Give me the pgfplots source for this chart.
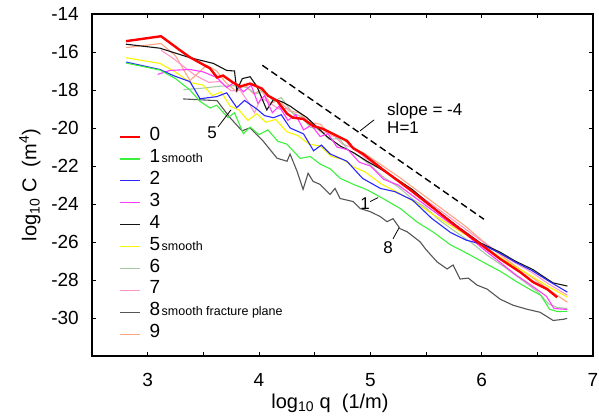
\documentclass[border=0pt]{standalone}
\usepackage{fontspec}
\setmainfont{Liberation Sans}
\usepackage{pgfplots}
\pgfplotsset{compat=1.18}
\definecolor{c0}{RGB}{255,0,0}
\definecolor{c1}{RGB}{60,240,60}
\definecolor{c2}{RGB}{40,40,255}
\definecolor{c3}{RGB}{255,60,255}
\definecolor{c4}{RGB}{20,20,20}
\definecolor{c5}{RGB}{250,245,0}
\definecolor{c6}{RGB}{165,200,165}
\definecolor{c7}{RGB}{255,150,200}
\definecolor{c8}{RGB}{85,85,85}
\definecolor{c9}{RGB}{255,165,130}
\newcommand{\sm}[1]{{\fontsize{12.5}{12.5}\selectfont\hspace{1.5pt}#1}}
\begin{document}
\begin{tikzpicture}
\begin{axis}[name=ax, width=501pt, height=342pt, scale only axis,
  xmin=2.5, xmax=7, ymin=-32, ymax=-14,
  xtick={3,4,5,6,7}, minor xtick={3.5,4.5,5.5,6.5},
  ytick={-30,-28,-26,-24,-22,-20,-18,-16,-14},
  tick align=inside, major tick length=4pt, minor tick length=4pt,
  axis line style={line width=1.1pt},
  every tick/.style={black, line width=0.9pt},
  /pgf/number format/assume math mode=true,
  ticklabel style={font=\fontsize{19}{19}\selectfont},
  yticklabel style={anchor=east, inner sep=0pt, xshift=-13pt},
  xticklabel style={anchor=north, inner sep=0pt, yshift=-17pt},
  xlabel={log\textsubscript{10} q\ \ (1/m)},
  ylabel={log\textsubscript{10} C\ \ (m\textsuperscript{4})},
  label style={font=\fontsize{20}{20}\selectfont},
  xlabel style={at={(rel axis cs:0.475,0)}, anchor=center, yshift=-47pt},
  ylabel style={at={(rel axis cs:-0.1238,0.5)}, anchor=center},
  legend style={at={(axis cs:2.743,-19.89)}, anchor=north west, draw=none, fill=none,
    font=\fontsize{19}{19}\selectfont, inner sep=0pt, row sep=0pt, column sep=8pt,
    nodes={inner sep=0pt, text height=14.5pt, text depth=7.4pt}},
  legend cell align=left,
  legend image code/.code={\draw[#1] (0pt,0pt) -- (20pt,0pt);},
  reverse legend,
]
\addplot[c9, line width=1.1pt] coordinates {(2.805,-15.77) (3.12,-15.55) (3.25,-16.20) (3.38,-17.50) (3.53,-16.70) (3.62,-17.00) (3.70,-17.60) (3.80,-18.10) (3.87,-17.70) (3.95,-18.20) (4.02,-18.00) (4.10,-18.70) (4.18,-18.55) (4.27,-19.10) (4.36,-19.20) (4.45,-19.70) (4.55,-19.80) (4.65,-20.40) (4.75,-20.55) (4.85,-21.05) (4.95,-21.35) (5.10,-21.95) (5.25,-22.55) (5.40,-23.20) (5.55,-23.85) (5.70,-24.50) (5.85,-25.15) (6.00,-25.90) (6.15,-26.60) (6.30,-27.25) (6.45,-27.85) (6.60,-28.50) (6.77,-29.17)};
\addlegendentry{9}
\addplot[c8, line width=1.1pt] coordinates {(3.318,-18.47) (3.623,-18.56) (3.740,-19.46) (3.848,-20.15) (3.920,-19.99) (4.036,-20.68) (4.162,-21.59) (4.252,-21.75) (4.279,-21.37) (4.342,-22.28) (4.396,-23.23) (4.441,-22.38) (4.486,-22.81) (4.549,-22.97) (4.638,-23.50) (4.683,-23.18) (4.728,-23.71) (4.845,-23.87) (4.908,-24.24) (4.998,-24.40) (5.088,-24.66) (5.150,-24.93) (5.204,-24.77) (5.267,-25.30) (5.330,-25.46) (5.447,-25.99) (5.50,-26.40) (5.600,-27.05) (5.690,-27.42) (5.743,-27.21) (5.806,-27.95) (5.880,-27.90) (5.959,-28.27) (6.049,-28.48) (6.166,-29.01) (6.283,-29.33) (6.408,-29.54) (6.525,-29.70) (6.642,-30.13) (6.732,-30.07) (6.768,-30.02)};
\addlegendentry{8\sm{smooth fracture plane}}
\addplot[c7, line width=1.1pt] coordinates {(3.12,-15.90) (3.22,-16.30) (3.32,-16.75) (3.42,-17.20) (3.55,-17.60) (3.65,-17.55) (3.75,-18.05) (3.83,-18.00) (3.90,-18.60) (3.96,-19.20) (4.02,-18.40) (4.10,-18.70) (4.18,-19.00) (4.26,-18.95) (4.35,-19.50) (4.45,-19.55) (4.55,-20.20) (4.65,-20.25) (4.75,-20.85) (4.85,-21.05) (4.95,-21.55) (5.10,-22.20) (5.25,-22.75) (5.40,-23.40) (5.55,-24.00) (5.70,-24.65) (5.85,-25.30) (6.00,-25.95) (6.15,-26.55) (6.30,-27.10) (6.45,-27.60) (6.60,-28.20) (6.77,-28.80)};
\addlegendentry{7}
\addplot[c6, line width=1.1pt] coordinates {(3.32,-17.98) (3.50,-17.90) (3.65,-17.80) (3.80,-17.77) (3.89,-17.87) (3.97,-18.20) (4.05,-18.05) (4.13,-18.60) (4.20,-18.40) (4.30,-19.20) (4.38,-19.40) (4.46,-19.95) (4.55,-20.10) (4.63,-20.60) (4.72,-20.55) (4.80,-21.15) (4.90,-21.50) (5.00,-21.95) (5.12,-22.60) (5.25,-23.10) (5.38,-23.75) (5.50,-24.20) (5.62,-24.85) (5.75,-25.40) (5.90,-26.00) (6.05,-26.70) (6.20,-27.30) (6.35,-27.95) (6.50,-28.60) (6.60,-29.25) (6.68,-29.45) (6.77,-29.50)};
\addlegendentry{6}
\addplot[c5, line width=1.1pt] coordinates {(2.805,-16.30) (3.11,-16.60) (3.25,-17.05) (3.38,-17.60) (3.50,-17.75) (3.58,-18.30) (3.66,-18.10) (3.74,-18.85) (3.82,-19.05) (3.90,-19.60) (3.98,-19.25) (4.06,-19.70) (4.15,-19.55) (4.25,-20.20) (4.35,-20.40) (4.45,-20.85) (4.55,-20.95) (4.65,-21.50) (4.75,-21.65) (4.85,-22.05) (4.95,-22.30) (5.10,-22.95) (5.25,-23.40) (5.40,-23.90) (5.55,-24.50) (5.70,-25.05) (5.85,-25.60) (6.00,-26.15) (6.15,-26.75) (6.30,-27.30) (6.45,-27.80) (6.60,-28.35) (6.77,-28.90)};
\addlegendentry{5\sm{smooth}}
\addplot[c4, line width=1.1pt] coordinates {(2.805,-15.59) (3.11,-15.80) (3.38,-16.30) (3.59,-16.60) (3.71,-16.97) (3.78,-17.00) (3.80,-18.03) (3.85,-17.40) (3.92,-17.30) (3.98,-17.80) (4.07,-19.05) (4.13,-18.50) (4.20,-18.60) (4.28,-18.85) (4.34,-19.10) (4.43,-19.45) (4.52,-19.95) (4.61,-20.45) (4.73,-20.95) (4.85,-21.30) (4.97,-21.75) (5.15,-22.35) (5.38,-23.25) (5.60,-24.35) (5.80,-25.25) (5.99,-26.05) (6.17,-26.55) (6.30,-27.00) (6.46,-27.45) (6.64,-28.15) (6.77,-28.32)};
\addlegendentry{4}
\addplot[c3, line width=1.1pt] coordinates {(3.09,-17.18) (3.20,-16.97) (3.38,-16.92) (3.50,-17.05) (3.62,-17.34) (3.71,-17.87) (3.78,-17.60) (3.86,-18.10) (3.93,-17.75) (3.99,-18.70) (4.05,-18.30) (4.12,-19.20) (4.18,-18.85) (4.26,-19.60) (4.33,-19.30) (4.40,-20.10) (4.47,-19.85) (4.55,-20.45) (4.62,-20.30) (4.70,-21.00) (4.80,-21.15) (4.90,-21.80) (5.00,-22.00) (5.12,-22.70) (5.25,-23.00) (5.40,-23.65) (5.55,-24.30) (5.70,-24.95) (5.85,-25.55) (6.00,-26.30) (6.15,-27.00) (6.30,-27.70) (6.45,-28.30) (6.58,-28.85) (6.65,-29.50) (6.77,-29.55)};
\addlegendentry{3}
\addplot[c2, line width=1.1pt] coordinates {(2.805,-16.53) (3.11,-16.92) (3.23,-17.24) (3.38,-17.56) (3.47,-18.46) (3.62,-18.35) (3.71,-18.15) (3.80,-18.93) (3.87,-18.55) (3.98,-19.00) (4.05,-19.35) (4.13,-19.46) (4.20,-19.30) (4.28,-20.00) (4.40,-20.31) (4.49,-21.20) (4.56,-20.90) (4.64,-21.37) (4.79,-21.75) (4.93,-22.65) (5.09,-23.18) (5.22,-23.35) (5.38,-23.80) (5.55,-24.75) (5.72,-25.50) (5.86,-25.90) (5.99,-26.10) (6.15,-26.55) (6.30,-27.05) (6.45,-27.50) (6.60,-28.05) (6.77,-28.64)};
\addlegendentry{2}
\addplot[c1, line width=1.1pt] coordinates {(2.805,-16.58) (3.11,-16.95) (3.25,-17.40) (3.38,-18.00) (3.47,-18.60) (3.56,-18.95) (3.62,-18.80) (3.72,-19.45) (3.78,-19.20) (3.86,-20.30) (3.92,-19.95) (4.00,-20.35) (4.08,-20.10) (4.17,-20.70) (4.25,-20.85) (4.37,-21.60) (4.46,-21.50) (4.55,-21.90) (4.64,-22.15) (4.73,-22.65) (4.85,-22.97) (4.97,-23.25) (5.11,-23.70) (5.27,-24.24) (5.42,-24.95) (5.57,-25.50) (5.72,-26.15) (5.87,-26.60) (6.01,-27.05) (6.17,-27.55) (6.32,-28.11) (6.45,-28.55) (6.53,-28.80) (6.61,-29.54) (6.68,-29.66) (6.77,-29.65)};
\addlegendentry{1\sm{smooth}}
\addplot[c0, line width=2.4pt] coordinates {(2.805,-15.43) (3.120,-15.17) (3.291,-15.91) (3.380,-16.28) (3.560,-16.86) (3.623,-17.34) (3.677,-17.24) (3.767,-17.61) (3.830,-17.82) (3.920,-17.66) (4.027,-17.93) (4.081,-18.30) (4.162,-18.56) (4.252,-19.25) (4.306,-19.46) (4.396,-19.52) (4.486,-19.89) (4.575,-20.05) (4.665,-20.31) (4.791,-20.68) (4.845,-21.06) (4.935,-21.37) (5.115,-22.20) (5.357,-23.25) (5.564,-24.20) (5.744,-25.05) (5.986,-26.10) (6.166,-26.89) (6.345,-27.58) (6.462,-28.11) (6.588,-28.48) (6.678,-28.91)};
\addlegendentry{0}
\addplot[black, line width=1.4pt, dash pattern=on 7pt off 4pt, forget plot] coordinates {(4.03,-16.7) (6.02,-24.8)};
\draw[black, line width=0.8pt] (axis cs:5.034,-19.57) -- (axis cs:4.908,-20.15);
\draw[black, line width=0.8pt] (axis cs:3.632,-19.94) -- (axis cs:3.749,-19.04);
\draw[black, line width=0.8pt] (axis cs:4.998,-23.87) -- (axis cs:5.070,-23.66);
\draw[black, line width=0.8pt] (axis cs:5.204,-25.83) -- (axis cs:5.258,-25.25);
\node[anchor=west, inner sep=0pt, font=\fontsize{17}{17}\selectfont] at (axis cs:5.15,-19.09) {slope = -4};
\node[anchor=west, inner sep=0pt, font=\fontsize{17}{17}\selectfont] at (axis cs:5.15,-19.99) {H=1};
\node[inner sep=0pt, font=\fontsize{17}{17}\selectfont] at (axis cs:3.578,-20.26) {5};
\node[inner sep=0pt, font=\fontsize{17}{17}\selectfont] at (axis cs:4.953,-23.97) {1};
\node[inner sep=0pt, font=\fontsize{17}{17}\selectfont] at (axis cs:5.159,-26.31) {8};
\end{axis}
\pgfresetboundingbox
\path ([xshift=-92pt,yshift=-61pt]ax.south west) rectangle ([xshift=6pt,yshift=14pt]ax.north east);
\end{tikzpicture}
\end{document}
